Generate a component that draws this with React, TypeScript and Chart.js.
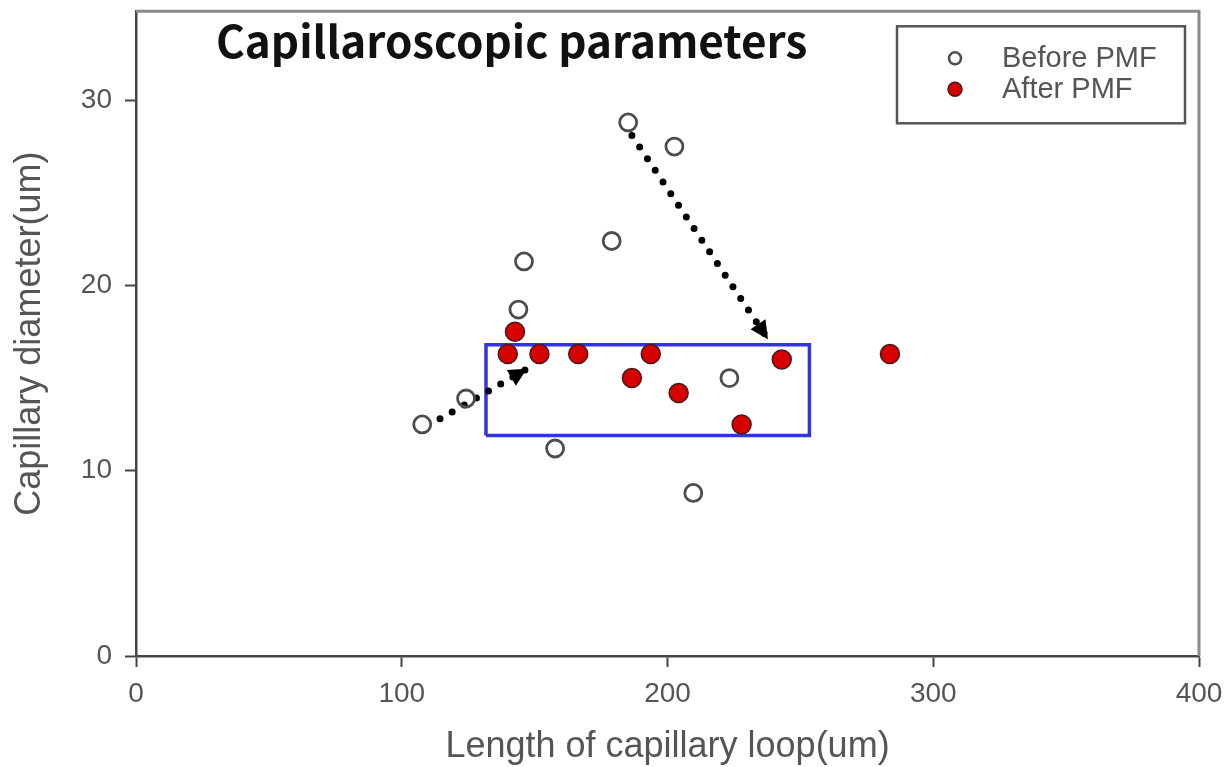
import React, { useEffect, useRef } from "react";
import { Chart, registerables } from "chart.js";

Chart.register(...registerables);

// ---- data ----
const beforeX = [107.7, 124.2, 143.9, 146.0, 157.7, 179.0, 185.2, 202.6, 209.7, 223.3];
const beforeY = [12.5, 13.9, 18.7, 21.3, 11.2, 22.4, 28.8, 27.5, 8.8, 15.0];
const afterX = [139.9, 142.6, 151.8, 166.4, 186.6, 193.7, 204.2, 227.9, 243.0, 283.7];
const afterY = [16.3, 17.5, 16.3, 16.3, 15.0, 16.3, 14.2, 12.5, 16.0, 16.3];

// highlight box (x range, y range)
const boxX = [131.7, 253.4, 253.4, 131.7, 131.7];
const boxY = [11.9, 11.9, 16.8, 16.8, 11.9];

// dotted arrows: [start, tip]
const arrow1X = [114.4, 147.1];
const arrow1Y = [12.8, 15.5];
const arrow2X = [186.6, 237.8];
const arrow2Y = [28.1, 17.1];

const xTicks = [0, 100, 200, 300, 400];
const yTicks = [0, 10, 20, 30];
const xRange = [0, 400];
const yRange = [0, 34.8];

const seriesNames = ["Before PMF", "After PMF"];
const chartTitle = "Capillaroscopic parameters";
const xTitle = "Length of capillary loop(um)";
const yTitle = "Capillary diameter(um)";

const pts = (xs: number[], ys: number[]) => xs.map((x, i) => ({ x, y: ys[i] }));

const SANS = "'Liberation Sans', Arial, sans-serif";

export default function App() {
  const ref = useRef<HTMLCanvasElement>(null);

  useEffect(() => {
    if (!ref.current) return;

    const overlay = {
      id: "overlay",
      beforeDatasetsDraw(chart: any) {
        const { ctx, chartArea: a } = chart;
        ctx.save();
        ctx.strokeStyle = "#8a8a8a";
        ctx.lineWidth = 3;
        ctx.beginPath();
        ctx.moveTo(a.left, a.top);
        ctx.lineTo(a.right, a.top);
        ctx.lineTo(a.right, a.bottom);
        ctx.stroke();
        ctx.restore();
      },
      afterDatasetsDraw(chart: any) {
        const { ctx, chartArea: a, scales } = chart;
        const xs = scales.x;
        const ys = scales.y;
        ctx.save();
        // arrowheads
        const heads = [
          [arrow1X, arrow1Y],
          [arrow2X, arrow2Y],
        ];
        ctx.fillStyle = "#000";
        for (const [ax, ay] of heads) {
          const x0 = xs.getPixelForValue(ax[0]);
          const y0 = ys.getPixelForValue(ay[0]);
          const x1 = xs.getPixelForValue(ax[1]);
          const y1 = ys.getPixelForValue(ay[1]);
          const ang = Math.atan2(y1 - y0, x1 - x0);
          const L = 18;
          const W = 9;
          const bx = x1 - L * Math.cos(ang);
          const by = y1 - L * Math.sin(ang);
          const px = -Math.sin(ang);
          const py = Math.cos(ang);
          ctx.beginPath();
          ctx.moveTo(x1, y1);
          ctx.lineTo(bx + W * px, by + W * py);
          ctx.lineTo(bx - W * px, by - W * py);
          ctx.closePath();
          ctx.fill();
        }
        // title
        ctx.fillStyle = "#111";
        ctx.font = "bold 44px 'Noto Sans CJK KR', 'Open Sans', sans-serif";
        ctx.textAlign = "left";
        ctx.textBaseline = "alphabetic";
        ctx.fillText(chartTitle, a.left + 80, a.top + 47);

        // legend box
        const lx = a.right - 302;
        const ly = a.top + 15;
        const lw = 288;
        const lh = 97;
        ctx.strokeStyle = "#555";
        ctx.lineWidth = 2.5;
        ctx.strokeRect(lx, ly, lw, lh);
        ctx.font = `29px ${SANS}`;
        ctx.textBaseline = "middle";
        const rows = [ly + 32, ly + 63];
        // before marker
        ctx.beginPath();
        ctx.arc(lx + 58, rows[0], 6, 0, Math.PI * 2);
        ctx.strokeStyle = "#4d4d4d";
        ctx.lineWidth = 2.5;
        ctx.stroke();
        // after marker
        ctx.beginPath();
        ctx.arc(lx + 58, rows[1], 7, 0, Math.PI * 2);
        ctx.fillStyle = "#d60000";
        ctx.fill();
        ctx.strokeStyle = "#4a1a1a";
        ctx.lineWidth = 1.5;
        ctx.stroke();
        ctx.fillStyle = "#555";
        ctx.fillText(seriesNames[0], lx + 105, rows[0] + 1);
        ctx.fillText(seriesNames[1], lx + 105, rows[1] + 1);
        ctx.restore();
      },
    };

    const dotted = {
      showLine: true,
      borderColor: "#000",
      borderWidth: 7,
      borderDash: [0, 14],
      borderCapStyle: "round" as const,
      pointRadius: 0,
      fill: false,
    };

    const chart = new Chart(ref.current, {
      type: "scatter",
      data: {
        datasets: [
          {
            label: seriesNames[1],
            data: pts(afterX, afterY),
            pointStyle: "circle",
            pointRadius: 9.5,
            backgroundColor: "#d60000",
            borderColor: "#4a1a1a",
            borderWidth: 1.5,
          },
          {
            label: seriesNames[0],
            data: pts(beforeX, beforeY),
            pointStyle: "circle",
            pointRadius: 8.5,
            backgroundColor: "rgba(0,0,0,0)",
            borderColor: "#4d4d4d",
            borderWidth: 2.8,
          },
          { label: "arrow1", data: pts(arrow1X, arrow1Y), ...dotted },
          { label: "arrow2", data: pts(arrow2X, arrow2Y), ...dotted },
          {
            label: "box",
            data: pts(boxX, boxY),
            showLine: true,
            borderColor: "#3434dc",
            borderWidth: 3.5,
            pointRadius: 0,
            fill: false,
          },
        ],
      },
      options: {
        animation: false,
        responsive: false,
        devicePixelRatio: 1,
        layout: { padding: { top: 4, right: 29, left: 0, bottom: 0 } },
        plugins: {
          legend: { display: false },
          tooltip: { enabled: false },
          title: { display: false },
        },
        scales: {
          x: {
            type: "linear",
            min: xRange[0],
            max: xRange[1],
            afterFit: (s: any) => {
              s.height = 111;
              s.paddingLeft = 0;
              s.paddingRight = 0;
            },
            afterBuildTicks: (s: any) => {
              s.ticks = xTicks.map((v) => ({ value: v }));
            },
            ticks: {
              font: { size: 28, family: SANS },
              color: "#555",
              padding: 10,
              maxRotation: 0,
            },
            grid: {
              drawOnChartArea: false,
              drawTicks: true,
              tickLength: 11,
              tickColor: "#444",
              tickWidth: 2,
            },
            border: { color: "#444", width: 2.5 },
            title: {
              display: true,
              text: xTitle,
              color: "#555",
              font: { size: 36, family: SANS, lineHeight: 1.11 },
              padding: { top: 0, bottom: 0 },
            },
          },
          y: {
            type: "linear",
            min: yRange[0],
            max: yRange[1],
            afterFit: (s: any) => {
              s.width = 136;
              s.paddingTop = 0;
              s.paddingBottom = 0;
            },
            afterBuildTicks: (s: any) => {
              s.ticks = yTicks.map((v) => ({ value: v }));
            },
            ticks: {
              font: { size: 28, family: SANS },
              color: "#555",
              padding: 13,
            },
            grid: {
              drawOnChartArea: false,
              drawTicks: true,
              tickLength: 11,
              tickColor: "#444",
              tickWidth: 2,
            },
            border: { color: "#444", width: 2.5 },
            title: {
              display: true,
              text: yTitle,
              color: "#555",
              font: { size: 36, family: SANS, lineHeight: 1.11 },
              padding: { top: 10, bottom: 0 },
            },
          },
        },
      },
      plugins: [overlay],
    });

    return () => chart.destroy();
  }, []);

  return (
    <div style={{ position: "absolute", left: 0, top: 0, width: 1228, height: 767, background: "#fff" }}>
      <canvas ref={ref} width={1228} height={767} style={{ width: 1228, height: 767, display: "block" }} />
    </div>
  );
}
